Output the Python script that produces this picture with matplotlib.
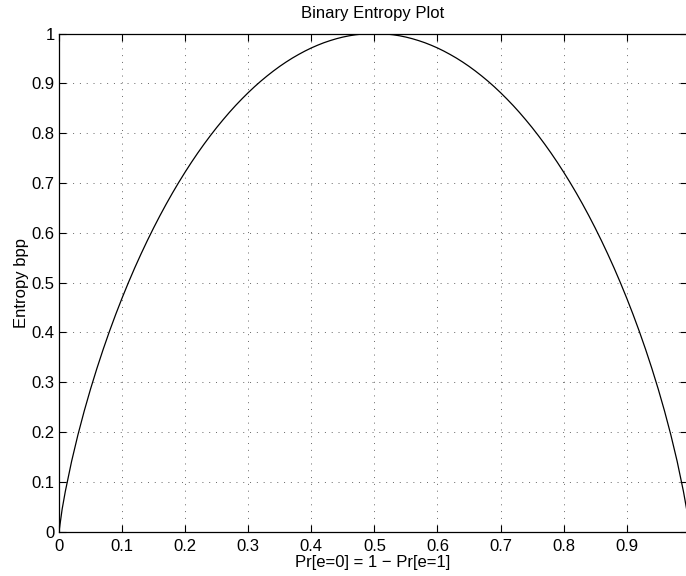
import matplotlib
matplotlib.use("Agg")
import matplotlib.pyplot as plt

plt.rcParams['font.family'] = ['Liberation Sans', 'DejaVu Sans']

# Probability values p = Pr[e=0]
p = [0.0, 0.005, 0.01, 0.02, 0.03, 0.04, 0.05, 0.06, 0.07, 0.08, 0.09,
     0.10, 0.11, 0.12, 0.13, 0.14, 0.15, 0.16, 0.17, 0.18, 0.19,
     0.20, 0.21, 0.22, 0.23, 0.24, 0.25, 0.26, 0.27, 0.28, 0.29,
     0.30, 0.31, 0.32, 0.33, 0.34, 0.35, 0.36, 0.37, 0.38, 0.39,
     0.40, 0.41, 0.42, 0.43, 0.44, 0.45, 0.46, 0.47, 0.48, 0.49,
     0.50, 0.51, 0.52, 0.53, 0.54, 0.55, 0.56, 0.57, 0.58, 0.59,
     0.60, 0.61, 0.62, 0.63, 0.64, 0.65, 0.66, 0.67, 0.68, 0.69,
     0.70, 0.71, 0.72, 0.73, 0.74, 0.75, 0.76, 0.77, 0.78, 0.79,
     0.80, 0.81, 0.82, 0.83, 0.84, 0.85, 0.86, 0.87, 0.88, 0.89,
     0.90, 0.91, 0.92, 0.93, 0.94, 0.95, 0.96, 0.97, 0.98, 0.99, 0.995]

# Entropy (bits per pixel)
entropy = [0.0, 0.0454, 0.0808, 0.1414, 0.1944, 0.2423, 0.2864, 0.3274, 0.3659, 0.4022, 0.4365,
           0.4690, 0.4999, 0.5294, 0.5574, 0.5842, 0.6098, 0.6343, 0.6577, 0.6801, 0.7015,
           0.7219, 0.7415, 0.7602, 0.7780, 0.7950, 0.8113, 0.8267, 0.8415, 0.8555, 0.8687,
           0.8813, 0.8932, 0.9044, 0.9149, 0.9248, 0.9341, 0.9427, 0.9507, 0.9580, 0.9648,
           0.9710, 0.9765, 0.9815, 0.9858, 0.9896, 0.9928, 0.9954, 0.9974, 0.9988, 0.9997,
           1.0, 0.9997, 0.9988, 0.9974, 0.9954, 0.9928, 0.9896, 0.9858, 0.9815, 0.9765,
           0.9710, 0.9648, 0.9580, 0.9507, 0.9427, 0.9341, 0.9248, 0.9149, 0.9044, 0.8932,
           0.8813, 0.8687, 0.8555, 0.8415, 0.8267, 0.8113, 0.7950, 0.7780, 0.7602, 0.7415,
           0.7219, 0.7015, 0.6801, 0.6577, 0.6343, 0.6098, 0.5842, 0.5574, 0.5294, 0.4999,
           0.4690, 0.4365, 0.4022, 0.3659, 0.3274, 0.2864, 0.2423, 0.1944, 0.1414, 0.0808, 0.0454]

xticks = [0, 0.1, 0.2, 0.3, 0.4, 0.5, 0.6, 0.7, 0.8, 0.9]
xtick_labels = ["0", "0.1", "0.2", "0.3", "0.4", "0.5", "0.6", "0.7", "0.8", "0.9"]
yticks = [0, 0.1, 0.2, 0.3, 0.4, 0.5, 0.6, 0.7, 0.8, 0.9, 1]
ytick_labels = ["0", "0.1", "0.2", "0.3", "0.4", "0.5", "0.6", "0.7", "0.8", "0.9", "1"]

fig = plt.figure(figsize=(6.86, 5.76), dpi=100)
ax = fig.add_axes([59/686, 44.3/576, 627.6/686, 498.2/576])

ax.plot(p, entropy, color='black', linewidth=0.9)

ax.set_xlim(0, 0.995)
ax.set_ylim(0, 1)
ax.set_xticks(xticks)
ax.set_xticklabels(xtick_labels)
ax.set_yticks(yticks)
ax.set_yticklabels(ytick_labels)

ax.grid(True, linestyle=(0, (1, 6)), color='#666666', linewidth=0.7)
ax.tick_params(direction='in', length=5, width=0.8, top=True, right=True,
               labelsize=12, colors='black', pad=3)
ax.tick_params(axis='x', pad=5)
for s in ax.spines.values():
    s.set_linewidth(0.9)

ax.set_title("Binary Entropy Plot", fontsize=12, pad=11)
ax.set_xlabel("Pr[e=0] = 1 \u2212 Pr[e=1]", fontsize=12, labelpad=1)
ax.set_ylabel("Entropy bpp", fontsize=12, labelpad=2)

fig.savefig("out.png", dpi=100)
